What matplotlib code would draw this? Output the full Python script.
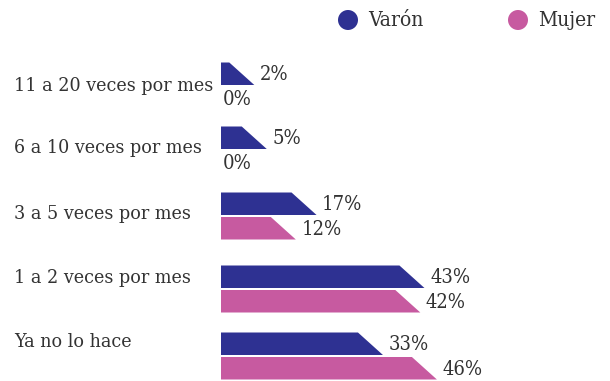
import matplotlib
matplotlib.use("Agg")
import matplotlib.pyplot as plt
from matplotlib.patches import Polygon, Circle
import matplotlib.transforms as mtransforms

categories = [
    "11 a 20 veces por mes",
    "6 a 10 veces por mes",
    "3 a 5 veces por mes",
    "1 a 2 veces por mes",
    "Ya no lo hace",
]
varon = [2, 5, 17, 43, 33]
mujer = [0, 0, 12, 42, 46]

COLOR_VARON = "#2e3192"
COLOR_MUJER = "#c75aa0"
TEXT_COLOR = "#333333"

W, H = 610, 381
X0 = 221            # left edge of bars (px)
PX_PER_PCT = 4.15   # horizontal scale
SLANT = 25          # width of the slanted tip (px)
BAR_H = 22.5
group_y = [86, 150, 216, 289, 356]   # boundary between the two bars of a group
label_y = [86, 148, 214, 278, 342]

plt.rcParams["font.family"] = ["DejaVu Serif"]
plt.rcParams["font.stretch"] = "condensed"

fig = plt.figure(figsize=(W / 100, H / 100), dpi=100)
ax = fig.add_axes([X0 / W, 0, 1 - X0 / W, 1])
ax.set_xlim(0, (W - X0) / PX_PER_PCT)
ax.set_ylim(H, 0)
ax.axis("off")

slant = SLANT / PX_PER_PCT
fs_cat, fs_pct, fs_leg = 14, 14.5, 15


def draw_bar(v, top, color):
    bottom = top + BAR_H
    if v > 0:
        pts = [(0, top), (v, top), (v + slant, bottom), (0, bottom)]
        ax.add_patch(Polygon(pts, closed=True, facecolor=color,
                             edgecolor="none"))
        end = v + slant
    else:
        end = 0
    ax.annotate(f"{v}%", xy=(end, (top + bottom) / 2 + 1),
                xytext=(4 if v > 0 else 1, 0), textcoords="offset points",
                ha="left", va="center", fontsize=fs_pct, color=TEXT_COLOR)


for i, cat in enumerate(categories):
    gy = group_y[i]
    draw_bar(varon[i], gy - BAR_H - 1, COLOR_VARON)
    draw_bar(mujer[i], gy + 1, COLOR_MUJER)

# category labels, anchored to the figure's left margin
trans = mtransforms.blended_transform_factory(fig.transFigure, ax.transData)
for cat, ly in zip(categories, label_y):
    ax.text(14 / W, ly, cat, transform=trans, ha="left", va="center",
            fontsize=fs_cat, color=TEXT_COLOR)

# legend
for cx, name, color in [(348, "Varón", COLOR_VARON), (518, "Mujer", COLOR_MUJER)]:
    fig.patches.append(Circle((cx, H - 20), 10, transform=None,
                              facecolor=color, edgecolor="none"))
    fig.text((cx + 20) / W, (H - 20) / H, name, ha="left", va="center",
             fontsize=fs_leg, color=TEXT_COLOR)

fig.savefig("out.png", dpi=100)
